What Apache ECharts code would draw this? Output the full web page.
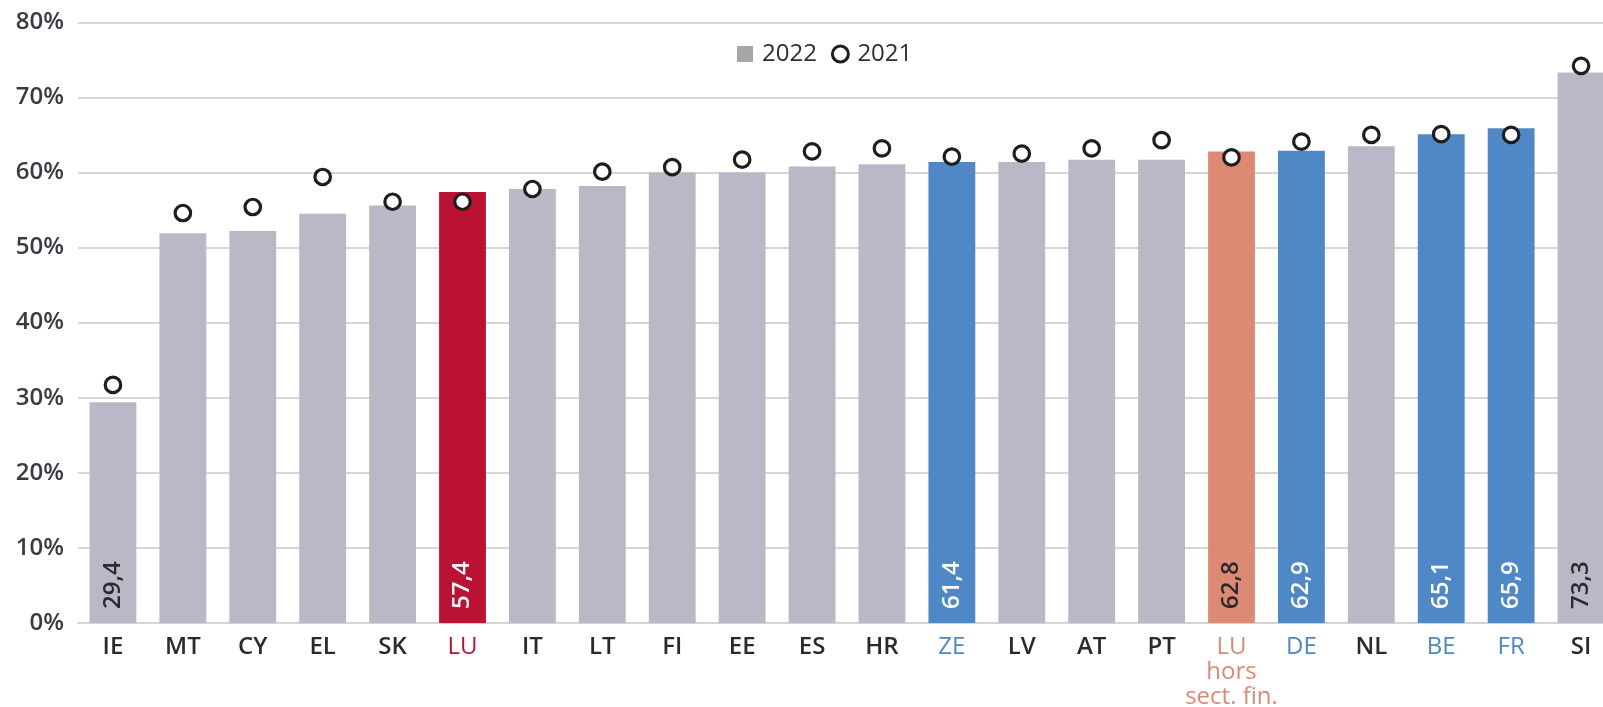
<!DOCTYPE html>
<html>
<head>
<meta charset="utf-8">
<script src="https://cdn.jsdelivr.net/npm/echarts@6/dist/echarts.min.js"></script>
<style>
  html, body { margin: 0; padding: 0; background: #fff; }
  #chart { width: 1603px; height: 707px; }
</style>
</head>
<body>
<div id="chart"></div>
<script>
// categories, in chart order
var countries = ['IE', 'MT', 'CY', 'EL', 'SK', 'LU', 'IT', 'LT', 'FI', 'EE', 'ES', 'HR', 'ZE', 'LV', 'AT', 'PT', 'LU\nhors\nsect. fin.', 'DE', 'NL', 'BE', 'FR', 'SI']
// 2022 values (bars)
var values2022 = [29.4, 51.9, 52.2, 54.5, 55.6, 57.4, 57.8, 58.2, 60.0, 60.0, 60.8, 61.1, 61.4, 61.4, 61.7, 61.7, 62.8, 62.9, 63.5, 65.1, 65.9, 73.3]
// 2021 values (circles)
var values2021 = [31.7, 54.6, 55.4, 59.4, 56.1, 56.1, 57.8, 60.1, 60.7, 61.7, 62.8, 63.2, 62.1, 62.5, 63.2, 64.3, 62.0, 64.1, 65.0, 65.1, 65.0, 74.2]
// y axis ticks
var yTicks = [0, 10, 20, 30, 40, 50, 60, 70, 80]

/* highlighted bars */
var RED = [5], BLUE = [12, 17, 19, 20], SALMON = [16]
var LABELLED = [0, 5, 12, 16, 17, 19, 20, 21]

function group (i) {
  if (RED.indexOf(i) >= 0) return 'red'
  if (BLUE.indexOf(i) >= 0) return 'blue'
  if (SALMON.indexOf(i) >= 0) return 'salmon'
  return 'base'
}
var COLORS = { red: '#bb1233', blue: '#4f88c6', salmon: '#dd8a74', base: '#b8b8c6' }

var font = "'Open Sans', sans-serif"

var barData = values2022.map(function (v, i) {
  var g = group(i)
  return {
    value: v,
    itemStyle: { color: COLORS[g] },
    label: {
      show: LABELLED.indexOf(i) >= 0,
      color: (g === 'red' || g === 'blue') ? '#ffffff' : '#2a2a2e'
    }
  }
})

var labelRich = {
  base: { fontSize: 24, fontWeight: 600, lineHeight: 25, color: '#2a2a2e', fontFamily: font },
  red: { fontSize: 24, fontWeight: 400, lineHeight: 25, color: COLORS.red, fontFamily: font },
  blue: { fontSize: 24, fontWeight: 400, lineHeight: 25, color: COLORS.blue, fontFamily: font },
  salmon: { fontSize: 24, fontWeight: 400, lineHeight: 25, color: COLORS.salmon, fontFamily: font }
}

var myChart = echarts.init(document.getElementById('chart'))
myChart.setOption({
  animation: false,
  textStyle: { fontFamily: font },
  legend: {
    left: 732,
    top: 37,
    itemWidth: 16,
    itemHeight: 16,
    itemGap: 14,
    textStyle: { fontSize: 24, fontWeight: 500, color: '#2e2e36', fontFamily: font, padding: [0, 0, 0, 4] },
    data: [
      { name: '2022', icon: 'rect', itemStyle: { color: '#a6a6a6', borderWidth: 0 } },
      { name: '2021', icon: 'circle', itemStyle: { color: '#fff', borderColor: '#1e1e1e', borderWidth: 3 } }
    ]
  },
  grid: {
    left: 78,
    top: 22.3,
    width: 1538,
    height: 600.7,
    outerBoundsMode: 'none'
  },
  xAxis: {
    type: 'category',
    data: countries,
    axisTick: { show: false },
    axisLine: { show: true, lineStyle: { color: '#d4d4d4', width: 2 } },
    axisLabel: {
      interval: 0,
      margin: 12,
      lineHeight: 25,
      fontFamily: font,
      rich: labelRich,
      formatter: function (val, idx) {
        var g = group(idx)
        return val.split('\n').map(function (s) { return '{' + g + '|' + s + '}' }).join('\n')
      }
    }
  },
  yAxis: {
    type: 'value',
    min: yTicks[0],
    max: yTicks[yTicks.length - 1],
    interval: 10,
    axisLine: { show: false },
    axisTick: { show: false },
    splitLine: { lineStyle: { color: '#d6d6d6', width: 2 } },
    axisLabel: {
      margin: 14,
      fontSize: 24,
      fontWeight: 600,
      fontFamily: font,
      color: '#3a3a44',
      formatter: '{value}%'
    }
  },
  series: [
    {
      name: '2022',
      type: 'bar',
      barWidth: '67%',
      data: barData,
      label: {
        position: 'insideBottom',
        rotate: 90,
        align: 'left',
        verticalAlign: 'middle',
        distance: 14,
        fontSize: 24,
        fontWeight: 600,
        fontFamily: font,
        formatter: function (p) { return String(p.value).replace('.', ',') }
      }
    },
    {
      name: '2021',
      type: 'scatter',
      data: values2021,
      symbol: 'circle',
      symbolSize: 15.5,
      z: 5,
      itemStyle: { color: '#fff', borderColor: '#1e1e1e', borderWidth: 3.2, opacity: 1 }
    }
  ]
})
</script>
</body>
</html>
